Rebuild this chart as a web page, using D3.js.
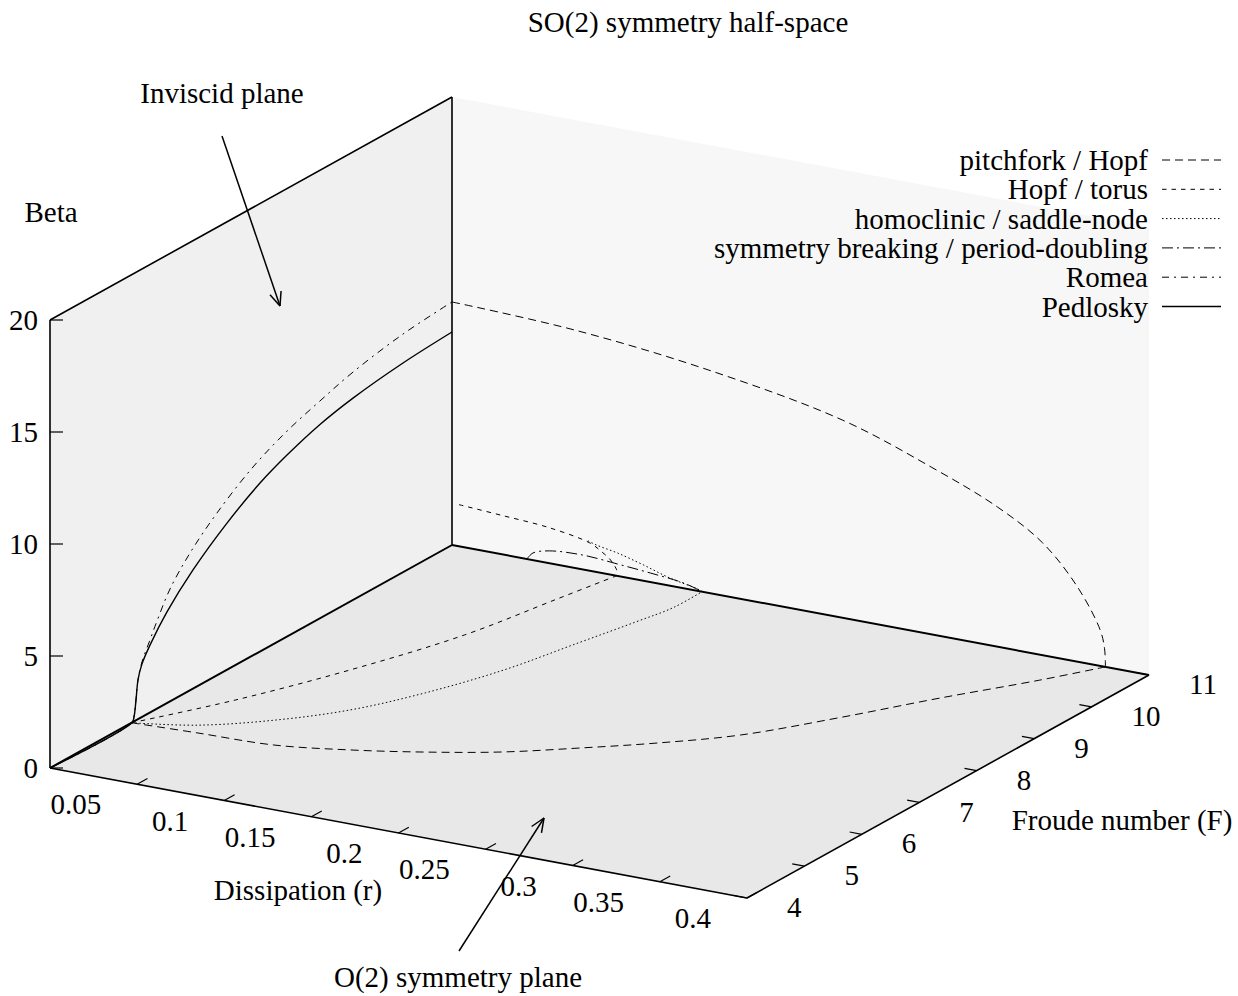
<!DOCTYPE html>
<html>
<head>
<meta charset="utf-8">
<script src="https://cdn.jsdelivr.net/npm/d3@7"></script>
<style>
  body { margin: 0; background: #fff; }
  text { font-family: "Liberation Serif", "Times New Roman", serif; fill: #000; }
</style>
</head>
<body>
<div id="chart"></div>
<script>
// axis ranges and ticks
var rTicks = [0.05, 0.1, 0.15, 0.2, 0.25, 0.3, 0.35, 0.4];
var fTicks = [4, 5, 6, 7, 8, 9, 10, 11];
var zTicks = [0, 5, 10, 15, 20];

// curves lying on the O(2) plane (beta = 0): [r, F]
var pitchforkFloor = [[0, 5.42], [0.036, 5.47], [0.078, 5.52], [0.115, 5.74], [0.149, 6.02], [0.182, 6.36],
  [0.212, 6.79], [0.241, 7.24], [0.271, 7.8], [0.30, 8.64], [0.328, 9.54], [0.357, 10.4], [0.375, 11]];
var torusFloor = [[0, 5.42], [0.027, 6.41], [0.053, 7.62], [0.075, 8.94], [0.087, 10.2], [0.0945, 11]];
var homoclinicFloor = [[0, 5.42], [0.03, 5.65], [0.059, 6.1], [0.084, 6.68], [0.103, 7.41], [0.119, 8.29],
  [0.130, 9.25], [0.1385, 10.0], [0.1435, 10.5], [0.1435, 11]];

// curves on the F = 11 plane: [r, beta]
var pitchforkBack = [[0, 10.85], [0.07, 10.62], [0.147, 9.95], [0.224, 8.83], [0.275, 7.47], [0.313, 6.24],
  [0.339, 5.01], [0.359, 3.33], [0.372, 1.6], [0.3745, 0.8], [0.375, 0]];
var torusBack = [[0.004, 1.86], [0.028, 1.74], [0.056, 1.58], [0.079, 1.24], [0.086, 0.94], [0.091, 0.65],
  [0.0945, 0.26], [0.0952, 0]];
var homoclinicBack = [[0.078, 1.32], [0.083, 1.2], [0.095, 1.02], [0.11, 0.7], [0.125, 0.34], [0.141, 0.08], [0.1435, 0]];
var symBreakBack = [[0.043, 0], [0.0465, 0.32], [0.056, 0.55], [0.075, 0.64], [0.095, 0.53], [0.114, 0.4],
  [0.133, 0.23], [0.1435, 0]];

// curves on the inviscid plane (r = 0): [F, beta]
var romea = [[4, 0], [5.428, 0], [5.463, 0.24], [5.498, 0.95], [5.532, 1.75], [5.602, 2.46], [5.741, 3.24],
  [5.863, 3.91], [6.09, 5.02], [6.438, 6.13], [6.908, 7.25], [7.535, 8.41], [8.127, 9.17], [8.701, 9.70],
  [9.276, 10.17], [10.147, 10.63], [11, 10.85]];
var pedlosky = [[4, 0], [5.428, 0], [5.463, 0.2], [5.498, 0.91], [5.532, 1.75], [5.602, 2.37], [5.741, 3.01],
  [6.037, 4.07], [6.49, 5.30], [7.082, 6.55], [7.657, 7.52], [8.127, 8.10], [8.701, 8.65], [9.276, 9.01],
  [10.147, 9.34], [11, 9.51]];

var legendNames = ["pitchfork / Hopf", "Hopf / torus", "homoclinic / saddle-node",
  "symmetry breaking / period-doubling", "Romea", "Pedlosky"];
var dashes = ["8,5", "4.5,5", "1.5,2.5", "11,4,2,4", "7,5,2,5", null];

var width = 1238, height = 996;

var svg = d3.select("#chart").append("svg")
  .attr("width", width)
  .attr("height", height);

// oblique projection of the gnuplot view
var rS = d3.scaleLinear().domain([0, 0.4]).range([0, 1]);
var fS = d3.scaleLinear().domain([4, 11]).range([0, 1]);
var zS = d3.scaleLinear().domain([0, 20]).range([0, 448]);
var ox = 50, oy = 768;
function proj(r, F, b) {
  var u = rS(r), v = fS(F);
  return [ox + u * 697 + v * 402, oy + u * 130 - v * 223 - zS(b)];
}

function poly(pts, fill) {
  svg.append("path")
    .attr("d", "M" + pts.map(function(p) { return p.join(","); }).join("L") + "Z")
    .attr("fill", fill);
}
poly([proj(0, 4, 0), proj(0, 11, 0), proj(0, 11, 20), proj(0, 4, 20)], "#f0f0f0");
poly([proj(0, 11, 0), proj(0.4, 11, 0), proj(0.4, 11, 20), proj(0, 11, 20)], "#f7f7f7");
poly([proj(0, 4, 0), proj(0.4, 4, 0), proj(0.4, 11, 0), proj(0, 11, 0)], "#e8e8e8");

function seg(a, b, w) {
  svg.append("line")
    .attr("x1", a[0]).attr("y1", a[1]).attr("x2", b[0]).attr("y2", b[1])
    .attr("stroke", "#000").attr("stroke-width", w);
}
seg(proj(0, 4, 0), proj(0, 11, 0), 2);
seg(proj(0, 11, 0), proj(0.4, 11, 0), 2);
seg(proj(0, 4, 0), proj(0.4, 4, 0), 1.6);
seg(proj(0.4, 4, 0), proj(0.4, 11, 0), 1.6);
seg(proj(0, 4, 0), proj(0, 4, 20), 1.6);
seg(proj(0, 4, 20), proj(0, 11, 20), 1.6);
seg(proj(0, 11, 0), proj(0, 11, 20), 1.6);

// ticks and labels
var fs = 29;
rTicks.forEach(function(t) {
  var p = proj(t, 4, 0), q = proj(t, 4.18, 0);
  seg(p, q, 1.2);
  svg.append("text").attr("x", p[0] - 36).attr("y", p[1] + 20).attr("dy", "0.35em")
    .attr("text-anchor", "end").attr("font-size", fs).text(t);
});
fTicks.forEach(function(t) {
  var p = proj(0.4, t, 0), q = proj(0.393, t, 0);
  seg(p, q, 1.2);
  svg.append("text").attr("x", p[0] + 40).attr("y", p[1] + 9).attr("dy", "0.35em")
    .attr("text-anchor", "start").attr("font-size", fs).text(t);
});
zTicks.forEach(function(t) {
  var p = proj(0, 4, t);
  seg(p, [p[0] + 13, p[1]], 1.2);
  svg.append("text").attr("x", p[0] - 12).attr("y", p[1]).attr("dy", "0.35em")
    .attr("text-anchor", "end").attr("font-size", fs).text(t);
});

// curves
var line = d3.line().curve(d3.curveCatmullRom.alpha(0.5));
function curve(pts, dash, w) {
  var path = svg.append("path")
    .attr("d", line(pts))
    .attr("fill", "none")
    .attr("stroke", "#000")
    .attr("stroke-width", w || 1);
  if (dash) path.attr("stroke-dasharray", dash);
}
curve(pitchforkFloor.map(function(d) { return proj(d[0], d[1], 0); }), dashes[0]);
curve(pitchforkBack.map(function(d) { return proj(d[0], 11, d[1]); }), dashes[0]);
curve(torusFloor.map(function(d) { return proj(d[0], d[1], 0); }), dashes[1]);
curve(torusBack.map(function(d) { return proj(d[0], 11, d[1]); }), dashes[1]);
curve(homoclinicFloor.map(function(d) { return proj(d[0], d[1], 0); }), dashes[2]);
curve(homoclinicBack.map(function(d) { return proj(d[0], 11, d[1]); }), dashes[2]);
curve(symBreakBack.map(function(d) { return proj(d[0], 11, d[1]); }), dashes[3]);
curve(romea.map(function(d) { return proj(0, d[0], d[1]); }), dashes[4]);
curve(pedlosky.map(function(d) { return proj(0, d[0], d[1]); }), dashes[5], 1.4);

// legend
legendNames.forEach(function(name, i) {
  var y = 160 + i * 29.3;
  svg.append("text").attr("x", 1148).attr("y", y).attr("dy", "0.35em")
    .attr("text-anchor", "end").attr("font-size", fs).text(name);
  var l = svg.append("line").attr("x1", 1162).attr("x2", 1221).attr("y1", y).attr("y2", y)
    .attr("stroke", "#000").attr("stroke-width", i === 5 ? 1.4 : 1);
  if (dashes[i]) l.attr("stroke-dasharray", dashes[i]);
});

// titles
function label(x, y, s) {
  svg.append("text").attr("x", x).attr("y", y).attr("dy", "0.35em")
    .attr("text-anchor", "middle").attr("font-size", fs).text(s);
}
label(688, 22, "SO(2) symmetry half-space");
label(51, 212, "Beta");
label(298, 890, "Dissipation (r)");
label(1122, 820, "Froude number (F)");
label(222, 93, "Inviscid plane");
label(458, 977, "O(2) symmetry plane");

// annotation arrows
function arrow(x1, y1, x2, y2) {
  seg([x1, y1], [x2, y2], 1.5);
  var a = Math.atan2(y2 - y1, x2 - x1), len = 15, sp = 0.4;
  seg([x2, y2], [x2 - len * Math.cos(a - sp), y2 - len * Math.sin(a - sp)], 1.5);
  seg([x2, y2], [x2 - len * Math.cos(a + sp), y2 - len * Math.sin(a + sp)], 1.5);
}
arrow(222, 136, 280, 306);
arrow(459, 951, 544, 818);
</script>
</body>
</html>
